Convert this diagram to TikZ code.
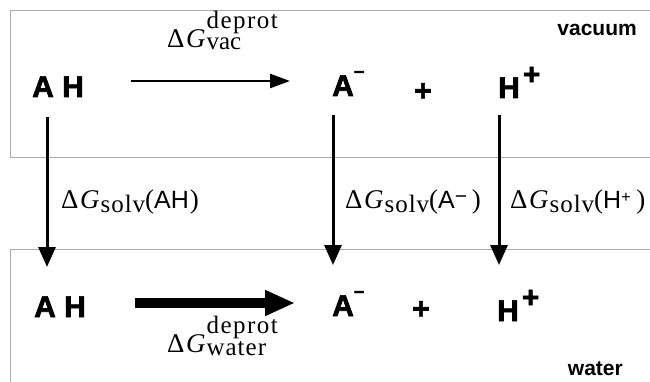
\documentclass[tikz,border=0pt]{standalone}
\usepackage{fontspec}
\setmainfont{Liberation Serif}
\setsansfont{Liberation Sans}
\usetikzlibrary{arrows.meta}
\newcommand{\myscr}[2][4]{{\fontsize{25}{27}\selectfont\addfontfeatures{LetterSpace=#1}#2}}
\newcommand{\dGsupsub}[3][4]{Δ\hspace{1.5pt}\textit{G}\hspace{1pt}\rlap{\raisebox{19pt}{\myscr[6]{deprot}}}\raisebox{-#3}{\myscr[#1]{#2}}}
\newcommand{\dGsolv}{Δ\hspace{1.5pt}\textit{G}\hspace{1pt}\raisebox{-4pt}{\myscr{solv}}}
\newcommand{\smin}{\rlap{\raisebox{18pt}{\fontsize{18}{18}\selectfont −}}}
\newcommand{\spls}{\rlap{\hspace{3pt}\raisebox{13.5pt}{+}}}
\newcommand{\lsans}{\sffamily\fontsize{25}{27}\selectfont}
\begin{document}
\begin{tikzpicture}[x=1pt,y=-1pt,
  boxline/.style={draw=gray!65, line width=0.8pt},
  chem/.style={font=\sffamily\bfseries\fontsize{30}{32}\selectfont\addfontfeatures{FakeBold=2}, inner sep=0pt},
  side/.style={font=\sffamily\bfseries\fontsize{21}{23}\selectfont, inner sep=0pt},
  lbl/.style={font=\fontsize{27}{29}\selectfont, inner sep=0pt, anchor=base west},
  harrow/.style={line width=2.5pt, -{Triangle[length=20pt,width=14pt]}},
  varrow/.style={line width=3pt, -{Triangle[length=20pt,width=17pt]}},
  bigarrow/.style={line width=10pt, -{Triangle[length=30pt,width=24pt]}}]
\useasboundingbox (0,0) rectangle (650,382);
% frames
\draw[boxline] (650,10) -- (10,10) -- (10,157) -- (650,157);
\draw[boxline] (650,249) -- (10,249) -- (10,382);
% side labels
\node[side, anchor=base east] (vac) at (637,36) {vacuum};
\node[side, anchor=base east] (wat) at (623,375) {water};
% top row
\node[chem, anchor=base west] (ah1) at (32,97) {A H};
\node[chem, anchor=base west] (a1) at (332,96) {A\smin};
\node[chem] (p1) at (423,92) {+};
\node[chem, anchor=base west] (h1) at (498,98) {H\spls};
% bottom row
\node[chem, anchor=base west] (ah2) at (34,317) {A H};
\node[chem, anchor=base west] (a2) at (332,316) {A\smin};
\node[chem] (p2) at (421,310) {+};
\node[chem, anchor=base west] (h2) at (497,321) {H\spls};
% horizontal arrows
\draw[harrow] ([shift={(47,-16)}]ah1.base east) -- ([shift={(-42,-15)}]a1.base west);
\draw[bigarrow] ([shift={(49,-14)}]ah2.base east) -- ([shift={(-37,-13)}]a2.base west);
% vertical arrows
\draw[varrow] ([shift={(15,20)}]ah1.base west) -- ([shift={(13,-50)}]ah2.base west);
\draw[varrow] ([shift={(1,19)}]a1.base west) -- ([shift={(1,-51)}]a2.base west);
\draw[varrow] ([shift={(1,17)}]h1.base west) -- ([shift={(2,-56)}]h2.base west);
% labels
\node[lbl] (lvac) at (167,48) {\dGsupsub[0]{vac}{1.5pt}};
\node[lbl] (lwat) at (167,352) {\dGsupsub{water}{3.5pt}};
\node[lbl] (lsah) at (61,208) {\dGsolv(\textsf{\lsans AH}\hspace{1pt})};
\node[lbl] (lsa) at (345,208) {\dGsolv(\textsf{\lsans A\rlap{\raisebox{4.5pt}{\fontsize{21}{21}\selectfont −}}}\hspace{17pt})};
\node[lbl] (lsh) at (510,208) {\dGsolv(\textsf{\lsans H\rlap{\raisebox{5.5pt}{\fontsize{16}{16}\selectfont +}}}\hspace{15pt})};
\end{tikzpicture}
\end{document}
